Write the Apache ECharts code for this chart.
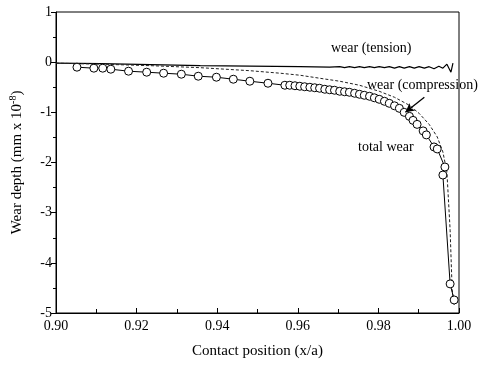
<!DOCTYPE html>
<html>
<head>
<meta charset="utf-8">
<script src="https://cdn.jsdelivr.net/npm/echarts@6/dist/echarts.min.js"></script>
<style>
  html, body { margin: 0; padding: 0; background: #fff; }
  #chart { width: 493px; height: 368px; }
</style>
</head>
<body>
<div id="chart"></div>
<script>
// total wear (circles)
const totalX = [0.9052, 0.9094, 0.9116, 0.9136, 0.9180, 0.9225, 0.9267, 0.9311, 0.9353, 0.9398, 0.9440, 0.9481, 0.9526, 0.9568,
  0.9580, 0.9593, 0.9605, 0.9617, 0.9630, 0.9642, 0.9654, 0.9667, 0.9679, 0.9691, 0.9704, 0.9716, 0.9728, 0.9741, 0.9753,
  0.9765, 0.9778, 0.9790, 0.9802, 0.9815, 0.9827, 0.9840, 0.9852, 0.9864, 0.9877, 0.9886, 0.9896,
  0.9911, 0.9919, 0.9938, 0.9946, 0.9965, 0.9960, 0.9978, 0.9988]
const totalY = [-0.10, -0.12, -0.12, -0.14, -0.18, -0.20, -0.22, -0.24, -0.28, -0.30, -0.34, -0.38, -0.42, -0.46,
  -0.46, -0.47, -0.48, -0.49, -0.50, -0.51, -0.52, -0.54, -0.55, -0.56, -0.58, -0.59, -0.60, -0.62, -0.64,
  -0.66, -0.68, -0.71, -0.74, -0.78, -0.82, -0.87, -0.92, -1.00, -1.08, -1.16, -1.24,
  -1.37, -1.45, -1.69, -1.73, -2.09, -2.25, -4.42, -4.74]

// wear (compression) - dashed
const compX = [0.9000, 0.9111, 0.9235, 0.9358, 0.9481, 0.9556, 0.9605, 0.9654, 0.9704, 0.9753, 0.9802, 0.9840,
  0.9877, 0.9901, 0.9926, 0.9946, 0.9960, 0.9970, 0.9978, 0.9983, 0.9988]
const compY = [-0.02, -0.04, -0.07, -0.11, -0.17, -0.22, -0.26, -0.32, -0.38, -0.46, -0.58, -0.70,
  -0.86, -1.02, -1.24, -1.49, -1.79, -2.19, -3.35, -4.54, -4.84]

// wear (tension) - solid
const tensX = [0.9000, 0.9111, 0.9235, 0.9358, 0.9481, 0.9605, 0.9679, 0.9704, 0.9716, 0.9728, 0.9741, 0.9753,
  0.9765, 0.9778, 0.9790, 0.9802, 0.9815, 0.9827, 0.9840, 0.9852, 0.9864, 0.9877, 0.9889, 0.9901, 0.9914,
  0.9926, 0.9938, 0.9950, 0.9960, 0.9970, 0.9980, 0.9985]
const tensY = [-0.02, -0.03, -0.05, -0.07, -0.08, -0.09, -0.10, -0.09, -0.11, -0.09, -0.11, -0.09,
  -0.11, -0.09, -0.11, -0.09, -0.11, -0.09, -0.12, -0.09, -0.12, -0.09, -0.12, -0.09, -0.12,
  -0.09, -0.13, -0.08, -0.12, -0.04, -0.20, -0.02]

const xTicks = [0.90, 0.92, 0.94, 0.96, 0.98, 1.00]
const yTicks = [1, 0, -1, -2, -3, -4, -5]

// arrow pointing at the compression curve
const arrowFrom = [0.9914, -0.70]
const arrowTo = [0.9867, -1.00]

function zip (xs, ys) {
  return xs.map((x, i) => [x, ys[i]])
}

const FONT = 'Liberation Serif'
const myChart = echarts.init(document.getElementById('chart'))

const option = {
  animation: false,
  backgroundColor: '#fff',
  grid: {
    left: 55,
    right: 34,
    top: 12,
    bottom: 55,
    show: true,
    borderColor: '#000',
    borderWidth: 1
  },
  xAxis: {
    type: 'value',
    min: 0.9,
    max: 1.0,
    interval: 0.02,
    name: 'Contact position (x/a)',
    nameLocation: 'middle',
    nameGap: 31,
    nameTextStyle: { fontFamily: FONT, fontSize: 15, color: '#000' },
    axisLine: { onZero: false, lineStyle: { color: '#000', width: 1 } },
    axisTick: { inside: true, length: 5, lineStyle: { color: '#000' } },
    minorTick: { show: true, splitNumber: 2, length: 4, lineStyle: { color: '#000' } },
    splitLine: { show: false },
    axisLabel: {
      fontFamily: FONT,
      fontSize: 14,
      color: '#000',
      margin: 6,
      formatter: v => xTicks.find(t => Math.abs(t - v) < 1e-6).toFixed(2)
    }
  },
  yAxis: {
    type: 'value',
    min: -5,
    max: 1,
    interval: 1,
    name: 'Wear depth (mm x 10{sup|-8})',
    nameLocation: 'middle',
    nameGap: 30,
    nameTextStyle: {
      fontFamily: FONT,
      fontSize: 15,
      color: '#000',
      rich: {
        sup: { fontFamily: FONT, fontSize: 10, color: '#000', verticalAlign: 'top', padding: [0, 0, 8, 0] }
      }
    },
    axisLine: { onZero: false, lineStyle: { color: '#000', width: 1 } },
    axisTick: { inside: false, length: 5, lineStyle: { color: '#000' } },
    minorTick: { show: true, splitNumber: 2, length: 3, lineStyle: { color: '#000' } },
    splitLine: { show: false },
    axisLabel: {
      fontFamily: FONT,
      fontSize: 14,
      color: '#000',
      margin: 4,
      formatter: v => String(yTicks.find(t => Math.abs(t - v) < 1e-6))
    }
  },
  series: [
    {
      name: 'wear (tension)',
      type: 'line',
      data: zip(tensX, tensY),
      showSymbol: false,
      lineStyle: { color: '#000', width: 1.2 },
      z: 2
    },
    {
      name: 'wear (compression)',
      type: 'line',
      data: zip(compX, compY),
      showSymbol: false,
      lineStyle: { color: '#222', width: 1, type: [3, 2] },
      z: 2,
      markLine: {
        silent: true,
        symbol: ['none', 'arrow'],
        symbolSize: [7, 9],
        label: { show: false },
        lineStyle: { color: '#000', width: 1.3, type: 'solid' },
        data: [[{ coord: arrowFrom }, { coord: arrowTo }]]
      }
    },
    {
      name: 'total wear',
      type: 'line',
      data: zip(totalX, totalY),
      symbol: 'circle',
      symbolSize: 8,
      itemStyle: { color: '#fff', borderColor: '#000', borderWidth: 1 },
      lineStyle: { color: '#000', width: 1 },
      z: 3
    }
  ],
  graphic: [
    { type: 'text', left: 331, top: 41, style: { text: 'wear (tension)', font: '14px "Liberation Serif"', fill: '#000' } },
    { type: 'text', left: 367, top: 78, style: { text: 'wear (compression)', font: '14px "Liberation Serif"', fill: '#000' } },
    { type: 'text', left: 358, top: 140, style: { text: 'total wear', font: '14px "Liberation Serif"', fill: '#000' } }
  ]
}
myChart.setOption(option)
</script>
</body>
</html>
